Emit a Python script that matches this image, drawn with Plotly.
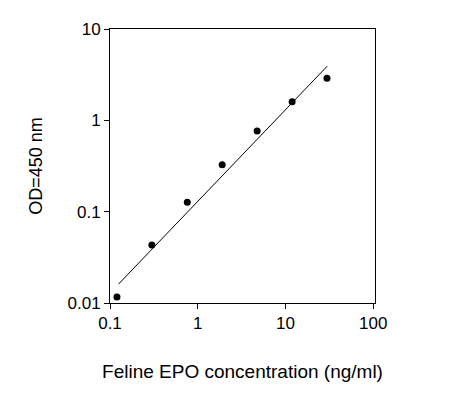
import plotly.graph_objects as go

conc = [0.12, 0.30, 0.76, 1.9, 4.75, 11.9, 29.7]
od = [0.0116, 0.0432, 0.127, 0.327, 0.762, 1.6, 2.89]
fit_x = [0.125, 29.9]
fit_y = [0.0161, 3.92]

fig = go.Figure()
fig.add_trace(go.Scatter(x=fit_x, y=fit_y, mode="lines",
                         line=dict(color="black", width=1)))
fig.add_trace(go.Scatter(x=conc, y=od, mode="markers",
                         marker=dict(color="black", size=7)))

axis_style = dict(type="log", showgrid=False, zeroline=False, showline=True,
                  linecolor="black", linewidth=1, mirror=True, ticks="outside",
                  ticklen=5, tickcolor="black", tickfont=dict(size=17, color="black"))
fig.update_xaxes(**axis_style, range=[-1, 2.02], tickvals=[0.1, 1, 10, 100],
                 ticktext=["0.1", "1", "10", "100"],
                 title=dict(text="Feline EPO concentration (ng/ml)", font=dict(size=19, color="black"), standoff=32))
fig.update_yaxes(**axis_style, range=[-2, 1], tickvals=[0.01, 0.1, 1, 10],
                 ticktext=["0.01", "0.1", "1", "10"],
                 title=dict(text="OD=450 nm", font=dict(size=18, color="black"), standoff=20))
fig.update_layout(width=451, height=410, showlegend=False,
                  plot_bgcolor="white", paper_bgcolor="white",
                  font=dict(family="Liberation Sans, Arial"),
                  margin=dict(l=102, r=84, t=15, b=115))
fig.write_html("out.html")
